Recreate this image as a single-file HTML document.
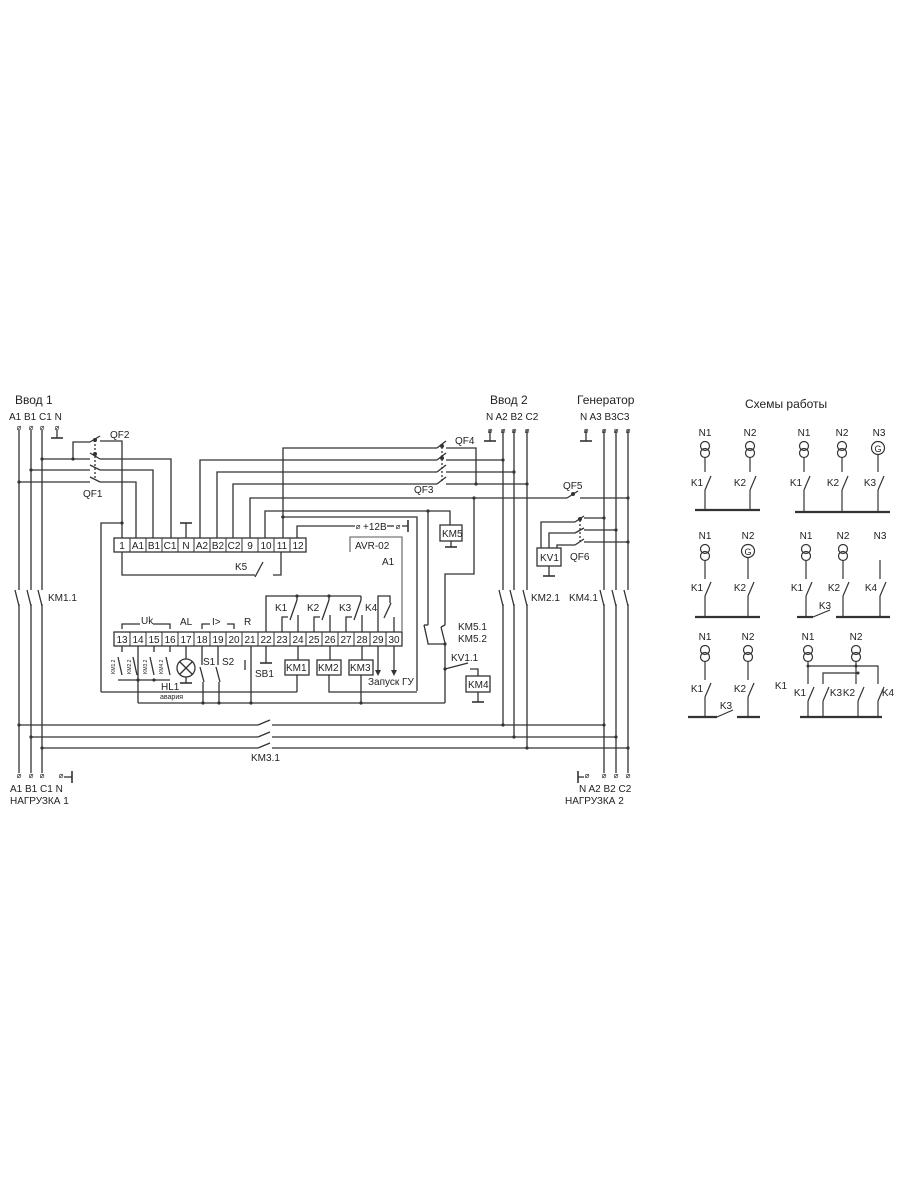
<!DOCTYPE html>
<html><head><meta charset="utf-8"><style>
html,body{margin:0;padding:0;background:#fff;}
svg{display:block}
text{font-family:"Liberation Sans","DejaVu Sans",sans-serif;fill:#222;}
</style></head><body>
<svg width="900" height="1200" viewBox="0 0 900 1200" xmlns="http://www.w3.org/2000/svg">
<g stroke="#333" stroke-width="1.3" fill="none">
<line x1="19" y1="430" x2="19" y2="590"/><line x1="19" y1="604" x2="19" y2="773"/>
<line x1="31" y1="430" x2="31" y2="590"/><line x1="31" y1="604" x2="31" y2="773"/>
<line x1="42" y1="430" x2="42" y2="590"/><line x1="42" y1="604" x2="42" y2="773"/>
<line x1="15" y1="590" x2="19" y2="606"/><line x1="27" y1="590" x2="31" y2="606"/><line x1="38" y1="590" x2="42" y2="606"/>
<line x1="57" y1="430" x2="57" y2="438"/><line x1="51" y1="438" x2="63" y2="438" stroke-width="1.6"/>
<polyline points="73,459 73,442 90,442"/><line x1="90" y1="442" x2="100" y2="436"/><polyline points="100,441 122,441 122,538"/>
<line x1="42" y1="459" x2="90" y2="459"/><line x1="90" y1="453" x2="100" y2="459"/><polyline points="100,459 171,459 171,538"/>
<line x1="31" y1="470" x2="90" y2="470"/><line x1="90" y1="465" x2="100" y2="470"/><polyline points="100,470 153,470 153,538"/>
<line x1="19" y1="482" x2="90" y2="482"/><line x1="90" y1="477" x2="100" y2="482"/><polyline points="100,482 136,482 136,538"/>
<line x1="95" y1="440" x2="95" y2="480" stroke-dasharray="2,2"/>
<polyline points="101,692 101,523 122,523"/>
<line x1="186" y1="538" x2="186" y2="523"/><line x1="180" y1="523" x2="192" y2="523" stroke-width="1.6"/>
<polyline points="200,538 200,460 437,460"/>
<polyline points="217,538 217,472 437,472"/>
<polyline points="233,538 233,484 437,484"/>
<polyline points="250,538 250,498 567,498"/>
<polyline points="265,538 265,511 450,511 450,525"/>
<polyline points="283,538 283,448 437,448"/>
<polyline points="281,517 417,517 417,691"/>
<polyline points="297,538 297,526 355,526"/>
<line x1="428" y1="511" x2="428" y2="625"/>
<line x1="437" y1="448" x2="446" y2="441"/><line x1="437" y1="460" x2="446" y2="453"/><line x1="437" y1="472" x2="446" y2="465"/><line x1="437" y1="484" x2="446" y2="477"/>
<line x1="442" y1="447" x2="442" y2="483" stroke-dasharray="2,2"/>
<polyline points="446,448 476,448 476,484"/>
<line x1="446" y1="460" x2="503" y2="460"/><line x1="446" y1="472" x2="514" y2="472"/><line x1="446" y1="484" x2="527" y2="484"/>
<line x1="503" y1="430" x2="503" y2="590"/><line x1="503" y1="604" x2="503" y2="725"/>
<line x1="514" y1="430" x2="514" y2="590"/><line x1="514" y1="604" x2="514" y2="737"/>
<line x1="527" y1="430" x2="527" y2="590"/><line x1="527" y1="604" x2="527" y2="748"/>
<line x1="499" y1="590" x2="503" y2="606"/><line x1="510" y1="590" x2="514" y2="606"/><line x1="523" y1="590" x2="527" y2="606"/>
<line x1="490" y1="430" x2="490" y2="441"/><line x1="484" y1="441" x2="496" y2="441" stroke-width="1.6"/>
<line x1="604" y1="430" x2="604" y2="590"/><line x1="604" y1="604" x2="604" y2="773"/>
<line x1="616" y1="430" x2="616" y2="590"/><line x1="616" y1="604" x2="616" y2="773"/>
<line x1="628" y1="430" x2="628" y2="590"/><line x1="628" y1="604" x2="628" y2="773"/>
<line x1="600" y1="590" x2="604" y2="606"/><line x1="612" y1="590" x2="616" y2="606"/><line x1="624" y1="590" x2="628" y2="606"/>
<line x1="586" y1="430" x2="586" y2="441"/><line x1="580" y1="441" x2="592" y2="441" stroke-width="1.6"/>
<line x1="567" y1="498" x2="578" y2="491"/><line x1="580" y1="498" x2="628" y2="498"/>
<polyline points="474,498 474,574 445,574 445,625"/>
<polyline points="541,548 541,522 575,522"/><line x1="575" y1="522" x2="584" y2="516"/><line x1="584" y1="518" x2="604" y2="518"/>
<polyline points="549,548 549,533 575,533"/><line x1="575" y1="533" x2="584" y2="528"/><line x1="584" y1="530" x2="616" y2="530"/>
<polyline points="557,548 557,545 575,545"/><line x1="575" y1="545" x2="584" y2="539"/><line x1="584" y1="542" x2="628" y2="542"/>
<line x1="580" y1="520" x2="580" y2="541" stroke-dasharray="2,2"/>
<rect x="537" y="548" width="24" height="18" fill="#fff"/>
<line x1="549" y1="566" x2="549" y2="576"/><line x1="543" y1="576" x2="555" y2="576" stroke-width="1.6"/>
<rect x="440" y="525" width="22" height="16" fill="#fff"/>
<line x1="451" y1="541" x2="451" y2="547"/><line x1="445" y1="547" x2="457" y2="547" stroke-width="1.6"/>
<line x1="428" y1="625" x2="424" y2="625"/><line x1="424" y1="625" x2="428" y2="643"/>
<line x1="445" y1="625" x2="441" y2="627"/><line x1="441" y1="627" x2="445" y2="643"/>
<polyline points="428,643 428,644 445,644 445,703"/>
<line x1="445" y1="669" x2="468" y2="663"/><polyline points="470,669 478,669 478,676"/>
<rect x="466" y="676" width="24" height="16" fill="#fff"/>
<line x1="478" y1="692" x2="478" y2="702"/><line x1="472" y1="702" x2="484" y2="702" stroke-width="1.6"/>
<rect x="114" y="538" width="192" height="14" fill="#fff"/>
<rect x="114" y="632" width="288" height="14" fill="#fff"/>
<polyline points="350,552 350,537 402,537 402,632" stroke="#777"/>
<polyline points="122,552 122,575 255,575"/><line x1="255" y1="577" x2="263" y2="562"/>
<polyline points="281,552 281,575 273,575"/>
<line x1="387" y1="526" x2="394" y2="526"/><line x1="402" y1="526" x2="408" y2="526"/><line x1="408" y1="520" x2="408" y2="532" stroke-width="1.6"/>
<polyline points="266,632 266,596 329,596"/>
<polyline points="282,632 282,617 288,617"/><line x1="290" y1="620" x2="297" y2="600"/><line x1="297" y1="600" x2="297" y2="596"/><line x1="298" y1="632" x2="298" y2="615"/>
<polyline points="314,632 314,617 320,617"/><line x1="322" y1="620" x2="329" y2="600"/><line x1="329" y1="600" x2="329" y2="596"/><line x1="330" y1="632" x2="330" y2="615"/>
<polyline points="346,632 346,617 352,617"/><line x1="354" y1="620" x2="361" y2="600"/><line x1="329" y1="596" x2="361" y2="596"/><line x1="361" y1="600" x2="361" y2="596"/><line x1="362" y1="632" x2="362" y2="615"/>
<polyline points="378,632 378,596 390,596 390,603"/><line x1="384" y1="618" x2="391" y2="603"/><line x1="394" y1="632" x2="394" y2="617"/>
<polyline points="122,629 122,624 140,624"/><polyline points="153,624 170,624 170,629"/>
<polyline points="202,629 202,624 210,624"/><polyline points="227,624 234,624 234,629"/>
<line x1="122" y1="646" x2="122" y2="652"/><line x1="118" y1="657" x2="122" y2="675"/><polyline points="118,680 138,680"/>
<line x1="138" y1="646" x2="138" y2="703"/>
<line x1="154" y1="646" x2="154" y2="652"/><line x1="150" y1="657" x2="154" y2="675"/>
<line x1="170" y1="646" x2="170" y2="652"/><line x1="166" y1="657" x2="170" y2="675"/>
<line x1="133" y1="657" x2="137" y2="675"/><polyline points="138,680 170,680"/>
<line x1="186" y1="646" x2="186" y2="659"/><circle cx="186" cy="668" r="9" fill="#fff"/>
<line x1="180" y1="662" x2="192" y2="674"/><line x1="192" y1="662" x2="180" y2="674"/>
<line x1="186" y1="677" x2="186" y2="683"/><line x1="180" y1="683" x2="192" y2="683" stroke-width="1.6"/>
<line x1="202" y1="646" x2="202" y2="665"/><line x1="200" y1="667" x2="204" y2="682"/>
<line x1="203" y1="682" x2="203" y2="703"/>
<line x1="218" y1="646" x2="218" y2="665"/><line x1="216" y1="667" x2="220" y2="682"/><line x1="219" y1="682" x2="219" y2="703"/>
<line x1="251" y1="646" x2="251" y2="703"/><line x1="245" y1="660" x2="245" y2="670"/>
<line x1="266" y1="646" x2="266" y2="663"/><line x1="260" y1="663" x2="272" y2="663" stroke-width="1.6"/>
<line x1="298" y1="646" x2="298" y2="660"/><rect x="285" y="660" width="24" height="15" fill="#fff"/><line x1="297" y1="675" x2="297" y2="692"/>
<line x1="330" y1="646" x2="330" y2="660"/><rect x="317" y="660" width="24" height="15" fill="#fff"/><polyline points="329,675 329,692 417,692"/>
<line x1="362" y1="646" x2="362" y2="660"/><rect x="349" y="660" width="24" height="15" fill="#fff"/><line x1="361" y1="675" x2="361" y2="703"/>
<polyline points="101,692 297,692"/>
<line x1="138" y1="703" x2="445" y2="703"/>
<line x1="378" y1="646" x2="378" y2="670"/><line x1="394" y1="646" x2="394" y2="670"/>
<line x1="19" y1="725" x2="258" y2="725"/><line x1="258" y1="725" x2="270" y2="720"/><line x1="272" y1="725" x2="604" y2="725"/>
<line x1="31" y1="737" x2="258" y2="737"/><line x1="258" y1="737" x2="270" y2="732"/><line x1="272" y1="737" x2="616" y2="737"/>
<line x1="42" y1="748" x2="258" y2="748"/><line x1="258" y1="748" x2="270" y2="743"/><line x1="272" y1="748" x2="628" y2="748"/>
<line x1="64" y1="777" x2="72" y2="777"/><line x1="72" y1="771" x2="72" y2="783" stroke-width="1.6"/>
<line x1="578" y1="771" x2="578" y2="783" stroke-width="1.6"/><line x1="578" y1="777" x2="584" y2="777"/>
</g>
<g fill="#333">
<polygon points="375,670 381,670 378,676"/><polygon points="391,670 397,670 394,676"/>
<circle cx="73" cy="459" r="1.6"/><circle cx="42" cy="459" r="1.6"/><circle cx="31" cy="470" r="1.6"/><circle cx="19" cy="482" r="1.6"/>
<circle cx="122" cy="523" r="1.6"/><circle cx="283" cy="517" r="1.6"/><circle cx="428" cy="511" r="1.6"/>
<circle cx="503" cy="460" r="1.6"/><circle cx="514" cy="472" r="1.6"/><circle cx="527" cy="484" r="1.6"/><circle cx="476" cy="484" r="1.6"/>
<circle cx="474" cy="498" r="1.6"/><circle cx="628" cy="498" r="1.6"/>
<circle cx="604" cy="518" r="1.6"/><circle cx="616" cy="530" r="1.6"/><circle cx="628" cy="542" r="1.6"/>
<circle cx="297" cy="596" r="1.6"/><circle cx="329" cy="596" r="1.6"/>
<circle cx="445" cy="644" r="1.6"/><circle cx="445" cy="669" r="1.6"/>
<circle cx="138" cy="680" r="1.6"/><circle cx="154" cy="680" r="1.6"/>
<circle cx="203" cy="703" r="1.6"/><circle cx="219" cy="703" r="1.6"/><circle cx="251" cy="703" r="1.6"/><circle cx="361" cy="703" r="1.6"/>
<circle cx="19" cy="725" r="1.6"/><circle cx="31" cy="737" r="1.6"/><circle cx="42" cy="748" r="1.6"/>
<circle cx="503" cy="725" r="1.6"/><circle cx="514" cy="737" r="1.6"/><circle cx="527" cy="748" r="1.6"/>
<circle cx="604" cy="725" r="1.6"/><circle cx="616" cy="737" r="1.6"/><circle cx="628" cy="748" r="1.6"/>
<circle cx="95" cy="440" r="2"/><circle cx="95" cy="454" r="2"/><circle cx="442" cy="446" r="2"/><circle cx="442" cy="458" r="2"/><circle cx="573" cy="494" r="2"/><circle cx="580" cy="519" r="2"/>
</g>
<g font-size="8" text-anchor="middle">
<text x="19" y="430">⌀</text><text x="31" y="430">⌀</text><text x="42" y="430">⌀</text><text x="57" y="430">⌀</text>
<text x="490" y="433">⌀</text><text x="503" y="433">⌀</text><text x="514" y="433">⌀</text><text x="527" y="433">⌀</text>
<text x="586" y="433">⌀</text><text x="604" y="433">⌀</text><text x="616" y="433">⌀</text><text x="628" y="433">⌀</text>
<text x="19" y="778">⌀</text><text x="31" y="778">⌀</text><text x="42" y="778">⌀</text><text x="61" y="778">⌀</text>
<text x="587" y="778">⌀</text><text x="604" y="778">⌀</text><text x="616" y="778">⌀</text><text x="628" y="778">⌀</text>
<text x="358" y="529">⌀</text><text x="398" y="529">⌀</text>
</g>
<g font-size="12">
<text x="15" y="404">Ввод 1</text><text x="490" y="404">Ввод 2</text><text x="577" y="404">Генератор</text>
<text x="745" y="408">Схемы работы</text>
</g>
<g font-size="10">
<text x="9" y="420">A1 B1 C1 N</text>
<text x="486" y="420">N  A2 B2 C2</text>
<text x="580" y="420">N  A3 B3C3</text>
<text x="110" y="438">QF2</text><text x="83" y="497">QF1</text>
<text x="455" y="444">QF4</text><text x="414" y="493">QF3</text><text x="563" y="489">QF5</text><text x="570" y="560">QF6</text>
<text x="48" y="601">KM1.1</text><text x="531" y="601">KM2.1</text><text x="569" y="601">KM4.1</text>
<text x="458" y="630">KM5.1</text><text x="458" y="642">KM5.2</text><text x="451" y="661">KV1.1</text>
<text x="442" y="537">KM5</text><text x="540" y="561">KV1</text><text x="468" y="688">KM4</text>
<text x="363" y="530">+12В</text>
<text x="355" y="549">AVR-02</text><text x="382" y="565">A1</text>
<text x="235" y="570">K5</text>
<text x="10" y="792">A1 B1 C1  N</text><text x="10" y="804">НАГРУЗКА 1</text>
<text x="579" y="792">N   A2 B2 C2</text><text x="565" y="804">НАГРУЗКА 2</text>
<text x="251" y="761">KM3.1</text>
<text x="141" y="624">Uk</text><text x="180" y="625">AL</text><text x="212" y="625">I&gt;</text><text x="244" y="625">R</text>
<text x="275" y="611">K1</text><text x="307" y="611">K2</text><text x="339" y="611">K3</text><text x="365" y="611">K4</text>
<text x="203" y="665">S1</text><text x="222" y="665">S2</text><text x="255" y="677">SB1</text>
<text x="161" y="690">HL1</text>
<text x="286" y="671">KM1</text><text x="318" y="671">KM2</text><text x="350" y="671">KM3</text>
<text x="368" y="685">Запуск ГУ</text>
</g>
<g font-size="7"><text x="160" y="699">авария</text></g>
<g font-size="5" transform="rotate(-90)">
<text x="-674" y="115">KM1.2</text><text x="-674" y="131">KM2.2</text><text x="-674" y="147">KM3.2</text><text x="-674" y="163">KM4.2</text>
</g>
<g stroke="#333" stroke-width="1">
<line x1="130" y1="538" x2="130" y2="552"/><line x1="146" y1="538" x2="146" y2="552"/><line x1="162" y1="538" x2="162" y2="552"/><line x1="178" y1="538" x2="178" y2="552"/><line x1="194" y1="538" x2="194" y2="552"/><line x1="210" y1="538" x2="210" y2="552"/><line x1="226" y1="538" x2="226" y2="552"/><line x1="242" y1="538" x2="242" y2="552"/><line x1="258" y1="538" x2="258" y2="552"/><line x1="274" y1="538" x2="274" y2="552"/><line x1="290" y1="538" x2="290" y2="552"/>
<line x1="130" y1="632" x2="130" y2="646"/><line x1="146" y1="632" x2="146" y2="646"/><line x1="162" y1="632" x2="162" y2="646"/><line x1="178" y1="632" x2="178" y2="646"/><line x1="194" y1="632" x2="194" y2="646"/><line x1="210" y1="632" x2="210" y2="646"/><line x1="226" y1="632" x2="226" y2="646"/><line x1="242" y1="632" x2="242" y2="646"/><line x1="258" y1="632" x2="258" y2="646"/><line x1="274" y1="632" x2="274" y2="646"/><line x1="290" y1="632" x2="290" y2="646"/><line x1="306" y1="632" x2="306" y2="646"/><line x1="322" y1="632" x2="322" y2="646"/><line x1="338" y1="632" x2="338" y2="646"/><line x1="354" y1="632" x2="354" y2="646"/><line x1="370" y1="632" x2="370" y2="646"/><line x1="386" y1="632" x2="386" y2="646"/>
</g>
<g font-size="10" text-anchor="middle">
<text x="122" y="549">1</text><text x="138" y="549">A1</text><text x="154" y="549">B1</text><text x="170" y="549">C1</text><text x="186" y="549">N</text><text x="202" y="549">A2</text><text x="218" y="549">B2</text><text x="234" y="549">C2</text><text x="250" y="549">9</text><text x="266" y="549">10</text><text x="282" y="549">11</text><text x="298" y="549">12</text>
<text x="122" y="643">13</text><text x="138" y="643">14</text><text x="154" y="643">15</text><text x="170" y="643">16</text><text x="186" y="643">17</text><text x="202" y="643">18</text><text x="218" y="643">19</text><text x="234" y="643">20</text><text x="250" y="643">21</text><text x="266" y="643">22</text><text x="282" y="643">23</text><text x="298" y="643">24</text><text x="314" y="643">25</text><text x="330" y="643">26</text><text x="346" y="643">27</text><text x="362" y="643">28</text><text x="378" y="643">29</text><text x="394" y="643">30</text>
</g>
<g stroke="#333" stroke-width="1.2" fill="none">
<circle cx="705" cy="446" r="4.5"/><circle cx="705" cy="453" r="4.5"/><line x1="705" y1="458" x2="705" y2="472"/><line x1="705" y1="490" x2="711" y2="476"/><line x1="705" y1="490" x2="705" y2="510"/>
<circle cx="750" cy="446" r="4.5"/><circle cx="750" cy="453" r="4.5"/><line x1="750" y1="458" x2="750" y2="472"/><line x1="750" y1="490" x2="756" y2="476"/><line x1="750" y1="490" x2="750" y2="510"/>
<line x1="695" y1="510" x2="760" y2="510" stroke-width="2.2"/>
<circle cx="804" cy="446" r="4.5"/><circle cx="804" cy="453" r="4.5"/><line x1="804" y1="458" x2="804" y2="472"/><line x1="804" y1="490" x2="810" y2="476"/><line x1="804" y1="490" x2="804" y2="512"/>
<circle cx="842" cy="446" r="4.5"/><circle cx="842" cy="453" r="4.5"/><line x1="842" y1="458" x2="842" y2="472"/><line x1="842" y1="490" x2="848" y2="476"/><line x1="842" y1="490" x2="842" y2="512"/>
<circle cx="878" cy="448" r="6.5"/><line x1="878" y1="455" x2="878" y2="472"/><line x1="878" y1="490" x2="884" y2="476"/><line x1="878" y1="490" x2="878" y2="512"/>
<line x1="795" y1="512" x2="890" y2="512" stroke-width="2.2"/>
<circle cx="705" cy="549" r="4.5"/><circle cx="705" cy="556" r="4.5"/><line x1="705" y1="561" x2="705" y2="579"/><line x1="705" y1="596" x2="711" y2="582"/><line x1="705" y1="596" x2="705" y2="617"/>
<circle cx="748" cy="551" r="6.5"/><line x1="748" y1="558" x2="748" y2="579"/><line x1="748" y1="596" x2="754" y2="582"/><line x1="748" y1="596" x2="748" y2="617"/>
<line x1="695" y1="617" x2="760" y2="617" stroke-width="2.2"/>
<circle cx="806" cy="549" r="4.5"/><circle cx="806" cy="556" r="4.5"/><line x1="806" y1="561" x2="806" y2="579"/><line x1="806" y1="596" x2="812" y2="582"/><line x1="806" y1="596" x2="806" y2="617"/>
<circle cx="843" cy="549" r="4.5"/><circle cx="843" cy="556" r="4.5"/><line x1="843" y1="561" x2="843" y2="579"/><line x1="843" y1="596" x2="849" y2="582"/><line x1="843" y1="596" x2="843" y2="617"/>
<line x1="880" y1="560" x2="880" y2="579"/><line x1="880" y1="596" x2="886" y2="582"/><line x1="880" y1="596" x2="880" y2="617"/>
<line x1="797" y1="617" x2="813" y2="617" stroke-width="2.2"/><line x1="813" y1="617" x2="830" y2="610"/><line x1="836" y1="617" x2="890" y2="617" stroke-width="2.2"/>
<circle cx="705" cy="650" r="4.5"/><circle cx="705" cy="657" r="4.5"/><line x1="705" y1="662" x2="705" y2="680"/><line x1="705" y1="697" x2="711" y2="683"/><line x1="705" y1="697" x2="705" y2="717"/>
<circle cx="748" cy="650" r="4.5"/><circle cx="748" cy="657" r="4.5"/><line x1="748" y1="662" x2="748" y2="680"/><line x1="748" y1="697" x2="754" y2="683"/><line x1="748" y1="697" x2="748" y2="717"/>
<line x1="688" y1="717" x2="717" y2="717" stroke-width="2.2"/><line x1="717" y1="717" x2="733" y2="710"/><line x1="737" y1="717" x2="760" y2="717" stroke-width="2.2"/>
<circle cx="808" cy="650" r="4.5"/><circle cx="808" cy="657" r="4.5"/>
<circle cx="856" cy="650" r="4.5"/><circle cx="856" cy="657" r="4.5"/>
<line x1="808" y1="662" x2="808" y2="684"/><line x1="808" y1="701" x2="814" y2="687"/><line x1="808" y1="701" x2="808" y2="717"/>
<line x1="856" y1="662" x2="856" y2="684"/><line x1="858" y1="701" x2="864" y2="687"/><line x1="858" y1="701" x2="858" y2="717"/>
<polyline points="808,666 878,666 878,684"/><line x1="878" y1="701" x2="884" y2="687"/><line x1="878" y1="701" x2="878" y2="717"/>
<polyline points="823,684 823,673 858,673"/><line x1="823" y1="701" x2="829" y2="687"/><line x1="823" y1="701" x2="823" y2="717"/>
<line x1="800" y1="717" x2="882" y2="717" stroke-width="2.2"/>
</g>
<g fill="#333"><circle cx="808" cy="666" r="1.5"/><circle cx="856" cy="666" r="1.5"/><circle cx="858" cy="673" r="1.5"/></g>
<g font-size="10" text-anchor="middle">
<text x="705" y="436">N1</text><text x="750" y="436">N2</text><text x="804" y="436">N1</text><text x="842" y="436">N2</text><text x="879" y="436">N3</text>
<text x="878" y="452" font-size="9">G</text><text x="748" y="555" font-size="9">G</text>
<text x="697" y="486">K1</text><text x="740" y="486">K2</text><text x="796" y="486">K1</text><text x="833" y="486">K2</text><text x="870" y="486">K3</text>
<text x="705" y="539">N1</text><text x="748" y="539">N2</text><text x="806" y="539">N1</text><text x="843" y="539">N2</text><text x="880" y="539">N3</text>
<text x="697" y="591">K1</text><text x="740" y="591">K2</text><text x="797" y="591">K1</text><text x="834" y="591">K2</text><text x="871" y="591">K4</text><text x="825" y="609">K3</text>
<text x="705" y="640">N1</text><text x="748" y="640">N2</text><text x="808" y="640">N1</text><text x="856" y="640">N2</text>
<text x="697" y="692">K1</text><text x="740" y="692">K2</text><text x="726" y="709">K3</text><text x="781" y="689">K1</text>
<text x="800" y="696">K1</text><text x="836" y="696">K3</text><text x="849" y="696">K2</text><text x="888" y="696">K4</text>
</g>
</svg>
</body></html>
